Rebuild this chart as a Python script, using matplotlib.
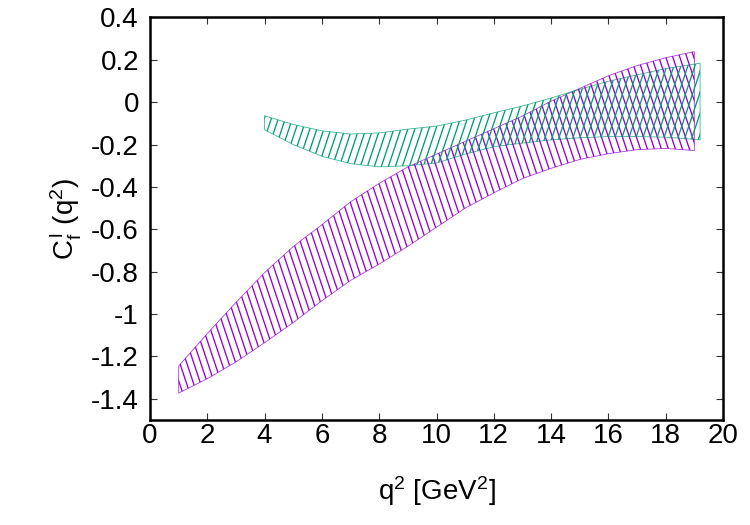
import numpy as np
import matplotlib
matplotlib.use("Agg")
import matplotlib.pyplot as plt
from matplotlib.collections import LineCollection

plt.rcParams['font.family'] = ['Liberation Sans', 'DejaVu Sans']
plt.rcParams['mathtext.fontset'] = 'custom'
plt.rcParams['mathtext.rm'] = 'Liberation Sans'
plt.rcParams['mathtext.it'] = 'Liberation Sans'

# ---- data ----
purple_x = [1, 2, 3, 4, 5, 6, 7, 8, 9, 10, 11, 12, 13, 14, 15, 16, 17, 18, 19]
purple_hi = [-1.245, -1.092, -0.945, -0.804, -0.681, -0.578, -0.470, -0.383, -0.305,
             -0.245, -0.185, -0.125, -0.065, 0.005, 0.065, 0.125, 0.173, 0.210, 0.239]
purple_lo = [-1.373, -1.305, -1.226, -1.135, -1.040, -0.937, -0.841, -0.764, -0.680,
             -0.590, -0.500, -0.428, -0.360, -0.312, -0.270, -0.243, -0.224, -0.218, -0.228]

green_x = [4, 5, 6, 7, 8, 9, 10, 11, 12, 13, 14, 15, 16, 17, 18, 19, 19.2]
green_hi = [-0.064, -0.105, -0.135, -0.150, -0.145, -0.127, -0.113, -0.085, -0.050,
            -0.018, 0.020, 0.061, 0.099, 0.129, 0.159, 0.180, 0.184]
green_lo = [-0.130, -0.200, -0.255, -0.290, -0.305, -0.300, -0.287, -0.245, -0.210,
            -0.193, -0.178, -0.168, -0.162, -0.162, -0.165, -0.175, -0.178]

xticks = [0, 2, 4, 6, 8, 10, 12, 14, 16, 18, 20]
yticks = [0.4, 0.2, 0, -0.2, -0.4, -0.6, -0.8, -1, -1.2, -1.4]
ytick_labels = ['0.4', '0.2', '0', '-0.2', '-0.4', '-0.6', '-0.8', '-1', '-1.2', '-1.4']

PURPLE = '#9400d3'
GREEN = '#009e73'

fig = plt.figure(figsize=(7.5, 5.25), dpi=100)
ax = fig.add_axes([0.2, 0.2, 0.764, 0.7667])
ax.set_xlim(0, 20)
ax.set_ylim(-1.5, 0.4)


def hatched_band(x, lo, hi, color, steep_sign, spacing_px=7.0):
    poly = ax.fill_between(x, lo, hi, facecolor='none', edgecolor=color,
                           linewidth=0.6, alpha=0.75)
    p0 = ax.transData.transform((0, 0))
    p1 = ax.transData.transform((1, 1))
    sx = p1[0] - p0[0]
    sy = p1[1] - p0[1]
    k = steep_sign * sy / (3.0 * sx)   # data-x shift per unit data-y
    ylo, yhi = ax.get_ylim()
    step = spacing_px / sx
    shift = abs(k) * (yhi - ylo)
    xcs = np.arange(min(x) - shift - 1, max(x) + shift + 1, step)
    segs = [[(xc - k * ylo, ylo), (xc - k * yhi, yhi)] for xc in xcs]
    lc = LineCollection(segs, colors=color, linewidths=0.95, transform=ax.transData)
    lc.set_clip_path(poly.get_paths()[0], ax.transData)
    ax.add_collection(lc, autolim=False)


hatched_band(purple_x, purple_lo, purple_hi, PURPLE, +1)
hatched_band(green_x, green_lo, green_hi, GREEN, -1)

ax.set_xticks(xticks)
ax.set_yticks(yticks)
ax.set_yticklabels(ytick_labels)
ax.tick_params(direction='in', length=5, width=0.8, top=True, right=True,
               labelsize=20, color='#333333')
ax.tick_params(axis='x', pad=2)
ax.tick_params(axis='y', pad=8)
for s in ax.spines.values():
    s.set_linewidth(1.8)

ax.set_xlabel(r'q$^\mathregular{2}$ [GeV$^\mathregular{2}$]', fontsize=20, labelpad=18)
ax.set_ylabel(r'$\mathregular{C_f^{\,l}}$ (q$^\mathregular{2}$)', fontsize=20, labelpad=6)

fig.savefig('out.png', dpi=100)
